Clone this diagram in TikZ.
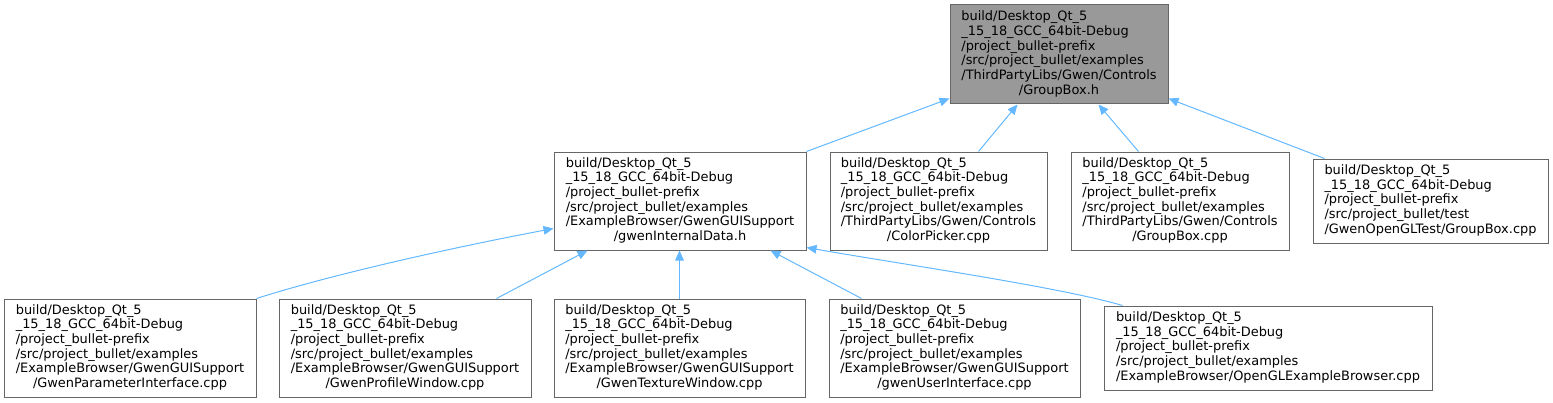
\documentclass[tikz,border=0pt]{standalone}
\usepackage{fontspec}
\setmainfont{DejaVu Sans}
\usetikzlibrary{arrows.meta,calc}
\definecolor{edgeblue}{HTML}{63B8FF}
\definecolor{boxgray}{HTML}{666666}
\definecolor{fillgray}{HTML}{999999}
\newcommand\pfx{build/Desktop\_Qt\_5\\\_15\_18\_GCC\_64bit-Debug\\/project\_bullet-prefix\\/src/project\_bullet/}
\newcommand\lastc[1]{\multicolumn{1}{@{}c@{}}{#1}}
\newcommand\lbl[1]{\begin{tabular}{@{}l@{}}#1\end{tabular}}
\tikzset{
  boxsize/.style 2 args={minimum width=#1*0.75pt, minimum height=#2*0.75pt},
  filebox/.style={draw=boxgray, line width=0.75pt, inner sep=0pt, fill=white,
    font=\fontsize{9.7}{11}\selectfont},
  rootbox/.style={filebox, fill=fillgray},
  edge/.style={draw=edgeblue, line width=0.75pt, -{Triangle[length=7.5pt,width=6.5pt]}}
}
\begin{document}
\begin{tikzpicture}[x=0.75pt,y=-0.75pt]
\useasboundingbox (0,0) rectangle (1553,403);
\node[rootbox, boxsize={218}{99}] (top) at (1059,54.5)
  {\lbl{\pfx examples\\/ThirdPartyLibs/Gwen/Controls\\\lastc{/GroupBox.h}}};
\node[filebox, boxsize={252}{98}] (A) at (680,201)
  {\lbl{\pfx examples\\/ExampleBrowser/GwenGUISupport\\\lastc{/gwenInternalData.h}}};
\node[filebox, boxsize={217}{98}] (B) at (938.5,201)
  {\lbl{\pfx examples\\/ThirdPartyLibs/Gwen/Controls\\\lastc{/ColorPicker.cpp}}};
\node[filebox, boxsize={218}{98}] (C) at (1180,201)
  {\lbl{\pfx examples\\/ThirdPartyLibs/Gwen/Controls\\\lastc{/GroupBox.cpp}}};
\node[filebox, boxsize={235}{84}] (D) at (1430.5,201)
  {\lbl{\pfx test\\/GwenOpenGLTest/GroupBox.cpp}};
\node[filebox, boxsize={252}{98}] (E1) at (130,348)
  {\lbl{\pfx examples\\/ExampleBrowser/GwenGUISupport\\\lastc{/GwenParameterInterface.cpp}}};
\node[filebox, boxsize={252}{98}] (E2) at (405,348)
  {\lbl{\pfx examples\\/ExampleBrowser/GwenGUISupport\\\lastc{/GwenProfileWindow.cpp}}};
\node[filebox, boxsize={251}{98}] (E3) at (679.5,348)
  {\lbl{\pfx examples\\/ExampleBrowser/GwenGUISupport\\\lastc{/GwenTextureWindow.cpp}}};
\node[filebox, boxsize={251}{98}] (E4) at (954.5,348)
  {\lbl{\pfx examples\\/ExampleBrowser/GwenGUISupport\\\lastc{/gwenUserInterface.cpp}}};
\node[filebox, boxsize={328}{84}] (E5) at (1268,348)
  {\lbl{\pfx examples\\/ExampleBrowser/OpenGLExampleBrowser.cpp}};
% edges to root
\draw[edge] (A.north east) -- ($(top.south west)+(0,-6)$);
\draw[edge] ($(B.north west)+(149,0)$) -- ($(top.south west)+(68,0)$);
\draw[edge] ($(C.north west)+(68,0)$) -- ($(top.south west)+(149,0)$);
\draw[edge] ($(D.north west)+(12,0)$) -- ($(top.south east)+(0,-6)$);
% edges to gwenInternalData
\draw[edge] (E1.north east) .. controls (330,275) and (450,248) .. ($(A.south west)+(0,-22)$);
\draw[edge] ($(E2.north west)+(218,0)$) -- ($(A.south west)+(34,0)$);
\draw[edge] ($(E3.north west)+(126,0)$) -- ($(A.south west)+(126,0)$);
\draw[edge] ($(E4.north west)+(33,0)$) -- ($(A.south west)+(217,0)$);
\draw[edge] ($(E5.north west)+(19,0)$) .. controls (1060,287) and (900,264) .. ($(A.south east)+(0,-3)$);
\end{tikzpicture}
\end{document}
